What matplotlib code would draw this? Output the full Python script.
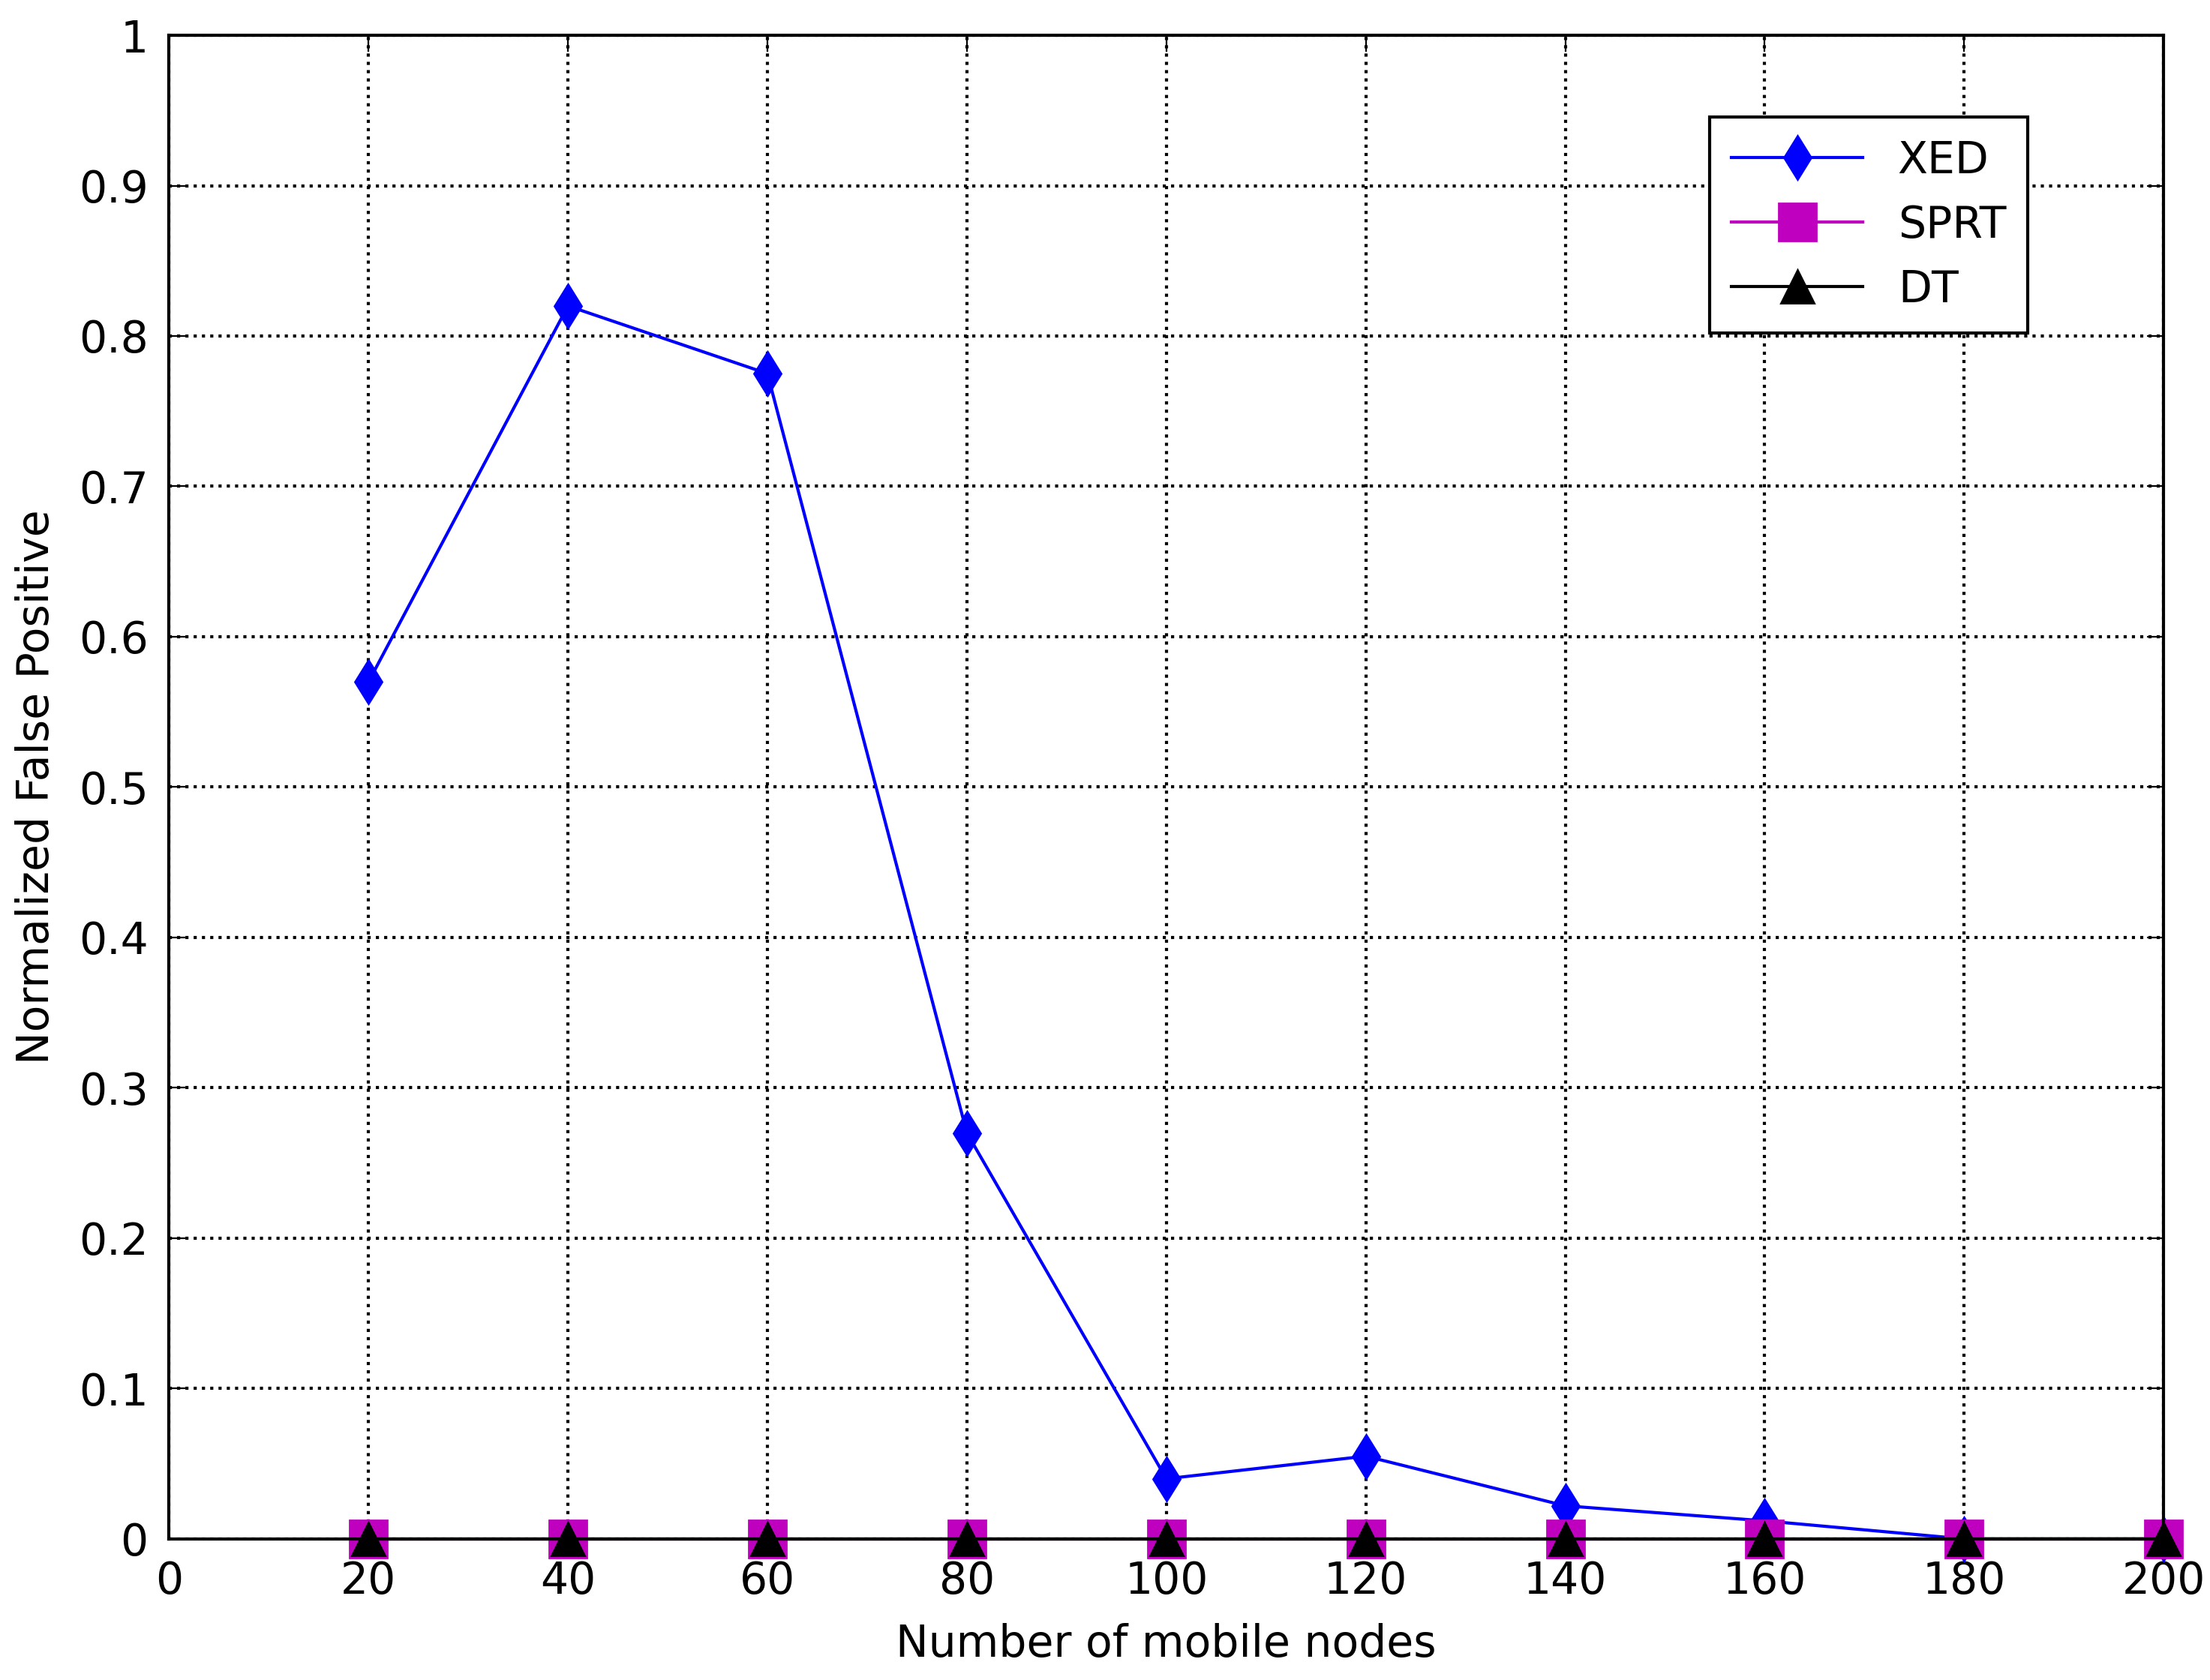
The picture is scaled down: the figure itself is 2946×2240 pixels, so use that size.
import numpy as np
import matplotlib.pyplot as plt

nodes = [20, 40, 60, 80, 100, 120, 140, 160, 180, 200]
xed = [0.57, 0.82, 0.775, 0.27, 0.04, 0.055, 0.022, 0.012, 0.0, 0.0]
sprt = [0, 0, 0, 0, 0, 0, 0, 0, 0, 0]
dt = [0, 0, 0, 0, 0, 0, 0, 0, 0, 0]

fig = plt.figure(figsize=(14.73, 11.2), dpi=200)
ax = fig.add_axes([0.0765, 0.084, 0.9025, 0.895])

ax.plot(nodes, xed, color='blue', marker='d', markersize=15, lw=1.5, label='XED', clip_on=False)
ax.plot(nodes, sprt, color='m', marker='s', markersize=18, lw=1.5, label='SPRT', clip_on=False)
ax.plot(nodes, dt, color='black', marker='^', markersize=16, lw=1.5, label='DT', clip_on=False)

ax.set_xlim(0, 200)
ax.set_ylim(0, 1)
ax.set_xticks(np.arange(0, 201, 20))
ax.set_yticks(np.arange(0, 1.01, 0.1))
ax.set_yticklabels(['0', '0.1', '0.2', '0.3', '0.4', '0.5', '0.6', '0.7', '0.8', '0.9', '1'])
ax.grid(True, color='black', linestyle=':', linewidth=1.5)
ax.tick_params(labelsize=21, direction='in', length=8, top=True, right=True, pad=10)
for s in ax.spines.values():
    s.set_linewidth(1.5)
ax.set_xlabel('Number of mobile nodes', fontsize=21, labelpad=10)
ax.set_ylabel('Normalized False Positive', fontsize=21, labelpad=10)

leg = ax.legend(loc='upper right', bbox_to_anchor=(0.943, 0.96), fontsize=21,
                fancybox=False, edgecolor='black', framealpha=1,
                handlelength=3, borderpad=0.5, labelspacing=0.5)
leg.get_frame().set_linewidth(1.5)

fig.savefig('out.png')
